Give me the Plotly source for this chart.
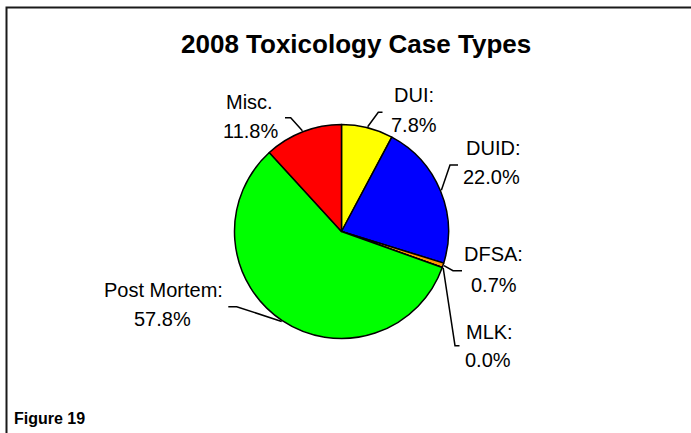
import math
import plotly.graph_objects as go

# ---- data ----
categories = ["DUI", "DUID", "DFSA", "MLK", "Post Mortem", "Misc."]
category_labels = ["DUI:", "DUID:", "DFSA:", "MLK:", "Post Mortem:", "Misc."]
percent_values = [7.8, 22.0, 0.7, 0.0, 57.8, 11.8]
slice_colors = ["#FFFF00", "#0000FF", "#FF9900", "#FF00FF", "#00FF00", "#FF0000"]
title_text = "2008 Toxicology Case Types"
figure_label = "Figure 19"

W, H = 691, 433
CX, CY, R = 341.5, 231.5, 107.0  # pie centre / radius in px


def px(x):
    return x / W


def py(y):
    return 1 - y / H


# label layout (px): (line1 centre, line2 centre, elbow, tick end)
label_layout = {
    "DUI": dict(l1=(414, 95), l2=(413.5, 125), elbow=(378.3, 112.3), tick=(382.5, 112.3)),
    "DUID": dict(l1=(492.5, 148), l2=(492, 177), elbow=(450, 165), tick=(458, 165)),
    "DFSA": dict(l1=(493, 253.5), l2=(493.5, 285), elbow=(453, 270.7), tick=(462, 270.7)),
    "MLK": dict(l1=(489, 331.5), l2=(488, 360), elbow=(455, 345.7), tick=(459.5, 345.7)),
    "Post Mortem": dict(l1=(163, 290), l2=(162, 319), elbow=(236.7, 306.7), tick=(228.3, 306.7)),
    "Misc.": dict(l1=(249.5, 102), l2=(250, 131), elbow=(290.7, 117.7), tick=(285, 117.7)),
}

fig = go.Figure()
fig.add_trace(go.Pie(
    labels=categories,
    values=percent_values,
    sort=False,
    direction="clockwise",
    rotation=0,
    marker=dict(colors=slice_colors, line=dict(color="#000000", width=1.5)),
    textinfo="none",
    textposition="none",
    hoverinfo="label+percent",
    showlegend=False,
    domain=dict(x=[px(CX - R), px(CX + R)], y=[py(CY + R), py(CY - R)]),
))

annotations = []
shapes = []
total = sum(percent_values)
cum = 0.0
font = dict(family="Liberation Sans, Arial, sans-serif", size=20, color="#000000")
for cat, lbl, val in zip(categories, category_labels, percent_values):
    mid = (cum + val / 2) / total * 2 * math.pi
    cum += val
    lay = label_layout[cat]
    sx = CX + (R + 1) * math.sin(mid)
    sy = CY - (R + 1) * math.cos(mid)
    ex, ey = lay["elbow"]
    tx, ty = lay["tick"]
    shapes.append(dict(type="path", xref="paper", yref="paper",
                       path=f"M {px(sx)},{py(sy)} L {px(ex)},{py(ey)} L {px(tx)},{py(ty)}",
                       line=dict(color="#000000", width=1.5)))
    annotations.append(dict(text=lbl, x=px(lay["l1"][0]), y=py(lay["l1"][1]),
                            xref="paper", yref="paper", xanchor="center", yanchor="middle",
                            showarrow=False, font=font))
    annotations.append(dict(text=f"{val:.1f}%", x=px(lay["l2"][0]), y=py(lay["l2"][1]),
                            xref="paper", yref="paper", xanchor="center", yanchor="middle",
                            showarrow=False, font=font))

annotations.append(dict(text=f"<b>{title_text}</b>", x=px(355.5), y=py(44),
                        xref="paper", yref="paper", xanchor="center", yanchor="middle",
                        showarrow=False,
                        font=dict(family="Liberation Sans, Arial, sans-serif", size=26, color="#000000")))
annotations.append(dict(text=f"<b>{figure_label}</b>", x=px(12), y=py(418),
                        xref="paper", yref="paper", xanchor="left", yanchor="middle",
                        showarrow=False,
                        font=dict(family="Liberation Sans, Arial, sans-serif", size=16, color="#000000")))

# chart frame (extends past the right/bottom edges)
shapes.append(dict(type="rect", xref="paper", yref="paper",
                   x0=px(6.5), y0=-0.2, x1=1.2, y1=py(7.5),
                   line=dict(color="#1a1a1a", width=2)))

fig.update_layout(
    width=W, height=H,
    margin=dict(l=0, r=0, t=0, b=0),
    paper_bgcolor="#FFFFFF",
    plot_bgcolor="#FFFFFF",
    annotations=annotations,
    shapes=shapes,
)

fig.write_html("out.html",
               config={"displayModeBar": False},
               post_script="document.body.style.margin='0';document.body.style.overflow='hidden';")
